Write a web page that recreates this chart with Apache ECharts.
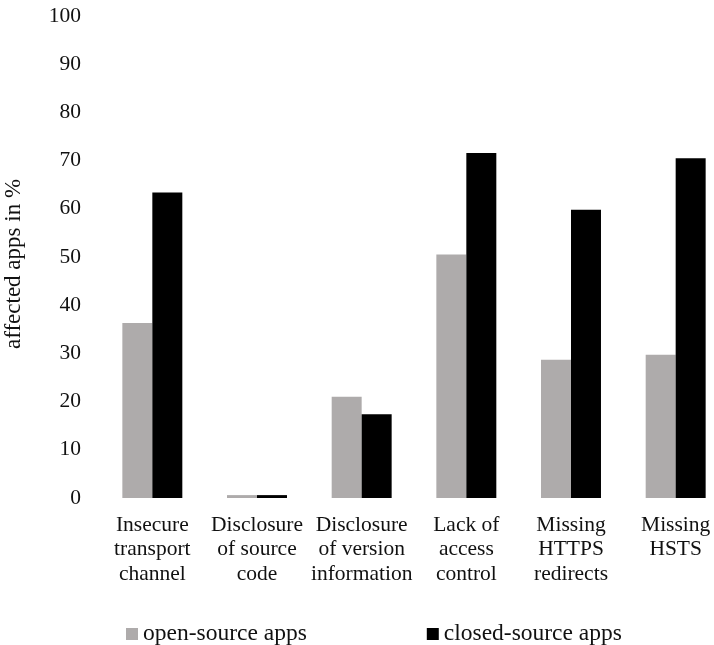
<!DOCTYPE html>
<html>
<head>
<meta charset="utf-8">
<script src="https://cdn.jsdelivr.net/npm/echarts@6/dist/echarts.min.js"></script>
<style>
  html, body { margin: 0; padding: 0; background: #fff; }
  #chart { width: 714px; height: 645px; }
</style>
</head>
<body>
<div id="chart"></div>
<script>
const categories = [
  "Insecure\ntransport\nchannel",
  "Disclosure\nof source\ncode",
  "Disclosure\nof version\ninformation",
  "Lack of\naccess\ncontrol",
  "Missing\nHTTPS\nredirects",
  "Missing\nHSTS"
];
const openSource = [36.3, 0.6, 21.0, 50.5, 28.7, 29.7];
const closedSource = [63.4, 0.6, 17.4, 71.6, 59.8, 70.5];
const seriesNames = ["open-source apps", "closed-source apps"];
const yAxisTitle = "affected apps in %";

const FONT = "'Liberation Serif', 'Times New Roman', serif";
const chart = echarts.init(document.getElementById('chart'), null, { renderer: 'canvas' });
chart.setOption({
  animation: false,
  backgroundColor: '#ffffff',
  grid: { left: 100, top: 16, width: 628, bottom: 147, containLabel: false, outerBoundsMode: 'none' },
  legend: {
    data: seriesNames,
    left: 121,
    top: 617,
    icon: 'rect',
    itemWidth: 12,
    itemHeight: 12,
    itemGap: 120,
    textStyle: { fontFamily: FONT, fontSize: 23.5, color: '#111', lineHeight: 24 }
  },
  xAxis: {
    type: 'category',
    data: categories,
    axisLine: { show: false },
    axisTick: { show: false },
    axisLabel: {
      interval: 0,
      margin: 15,
      fontFamily: FONT,
      fontSize: 21.5,
      lineHeight: 24.5,
      color: '#111'
    }
  },
  yAxis: {
    type: 'value',
    min: 0,
    max: 100,
    interval: 10,
    name: yAxisTitle,
    nameLocation: 'middle',
    nameGap: 75,
    nameRotate: 90,
    nameTextStyle: { fontFamily: FONT, fontSize: 23, color: '#111', padding: [0, 14, 0, 0] },
    axisLine: { show: false },
    axisTick: { show: false },
    splitLine: { show: false },
    axisLabel: { margin: 19, fontFamily: FONT, fontSize: 21.5, color: '#111' }
  },
  series: [
    {
      name: seriesNames[0],
      type: 'bar',
      data: openSource,
      itemStyle: { color: '#aeabab' },
      barGap: '0%',
      barCategoryGap: '42.7%'
    },
    {
      name: seriesNames[1],
      type: 'bar',
      data: closedSource,
      itemStyle: { color: '#000000' },
      barGap: '0%',
      barCategoryGap: '42.7%'
    }
  ]
});
</script>
</body>
</html>
